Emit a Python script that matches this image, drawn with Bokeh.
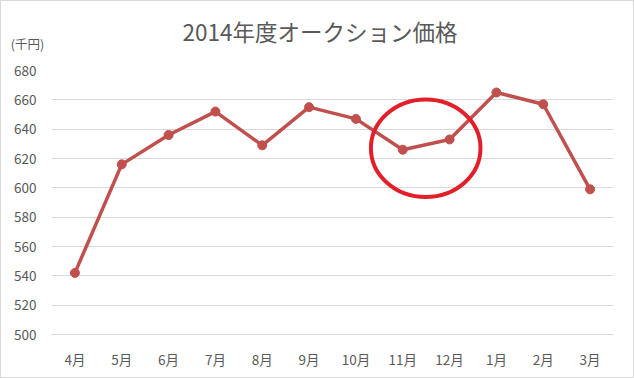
from bokeh.plotting import figure
from bokeh.models import Range1d, FixedTicker, Label, ColumnDataSource
from bokeh.embed import file_html
from bokeh.resources import INLINE

# ---- data ----
months = ["4月", "5月", "6月", "7月", "8月", "9月", "10月", "11月", "12月", "1月", "2月", "3月"]
prices = [542, 616, 636, 652, 629, 655, 647, 626, 633, 665, 657, 599]
y_ticks = [500, 520, 540, 560, 580, 600, 620, 640, 660, 680]
title_text = "2014年度オークション価格"
unit_text = "(千円)"

FONT = "Noto Sans CJK JP"
TXT = "#595959"
GRID = "#D9D9D9"
LINE = "#C0504D"

xs = list(range(len(months)))
src = ColumnDataSource(dict(x=xs, y=prices, m=months))

p = figure(width=634, height=378, output_backend="svg", toolbar_location=None,
           x_range=Range1d(-0.5, len(months) - 0.5), y_range=Range1d(500, 680),
           min_border_left=50, min_border_right=22, min_border_top=69, min_border_bottom=45)
p.outline_line_color = None
p.background_fill_color = "white"
p.border_fill_color = "white"

p.title.text = title_text
p.title.align = "left"
p.title.offset = 131
p.title.text_font = FONT
p.title.text_font_size = "22.5px"
p.title.text_font_style = "normal"
p.title.text_color = TXT
p.title.vertical_align = "bottom"
p.title.standoff = 10

# unit label placed in the top panel
p.add_layout(Label(x=25, y=40.5, x_units="canvas", y_units="canvas", text=unit_text,
                   text_font=FONT, text_font_size="12.5px", text_color=TXT,
                   text_align="center", text_baseline="middle"), "above")

p.xaxis.ticker = FixedTicker(ticks=xs)
p.xaxis.major_label_overrides = {i: m for i, m in zip(xs, months)}
p.yaxis.ticker = FixedTicker(ticks=y_ticks)
for ax in (p.xaxis, p.yaxis):
    ax.major_tick_line_color = None
    ax.minor_tick_line_color = None
    ax.major_label_text_font = FONT
    ax.major_label_text_font_size = "13.5px"
    ax.major_label_text_color = TXT
p.yaxis.axis_line_color = None
p.xaxis.axis_line_color = GRID
p.yaxis.major_label_standoff = 9
p.xaxis.major_label_standoff = 8
p.xgrid.grid_line_color = None
p.ygrid.grid_line_color = GRID
p.ygrid.ticker = FixedTicker(ticks=y_ticks)

p.line("x", "y", source=src, line_color=LINE, line_width=3.5)
p.scatter("x", "y", source=src, size=9, fill_color=LINE, line_color=LINE)

# highlight ellipse around 11月-12月
p.ellipse(x=[7.49], y=[627], width=[2.34], height=[66.5], fill_color=None,
          line_color="#E3202A", line_width=4)

p.styles = {"border": f"1px solid {GRID}", "box-sizing": "border-box"}

open("out.html", "w").write(file_html(p, INLINE))
